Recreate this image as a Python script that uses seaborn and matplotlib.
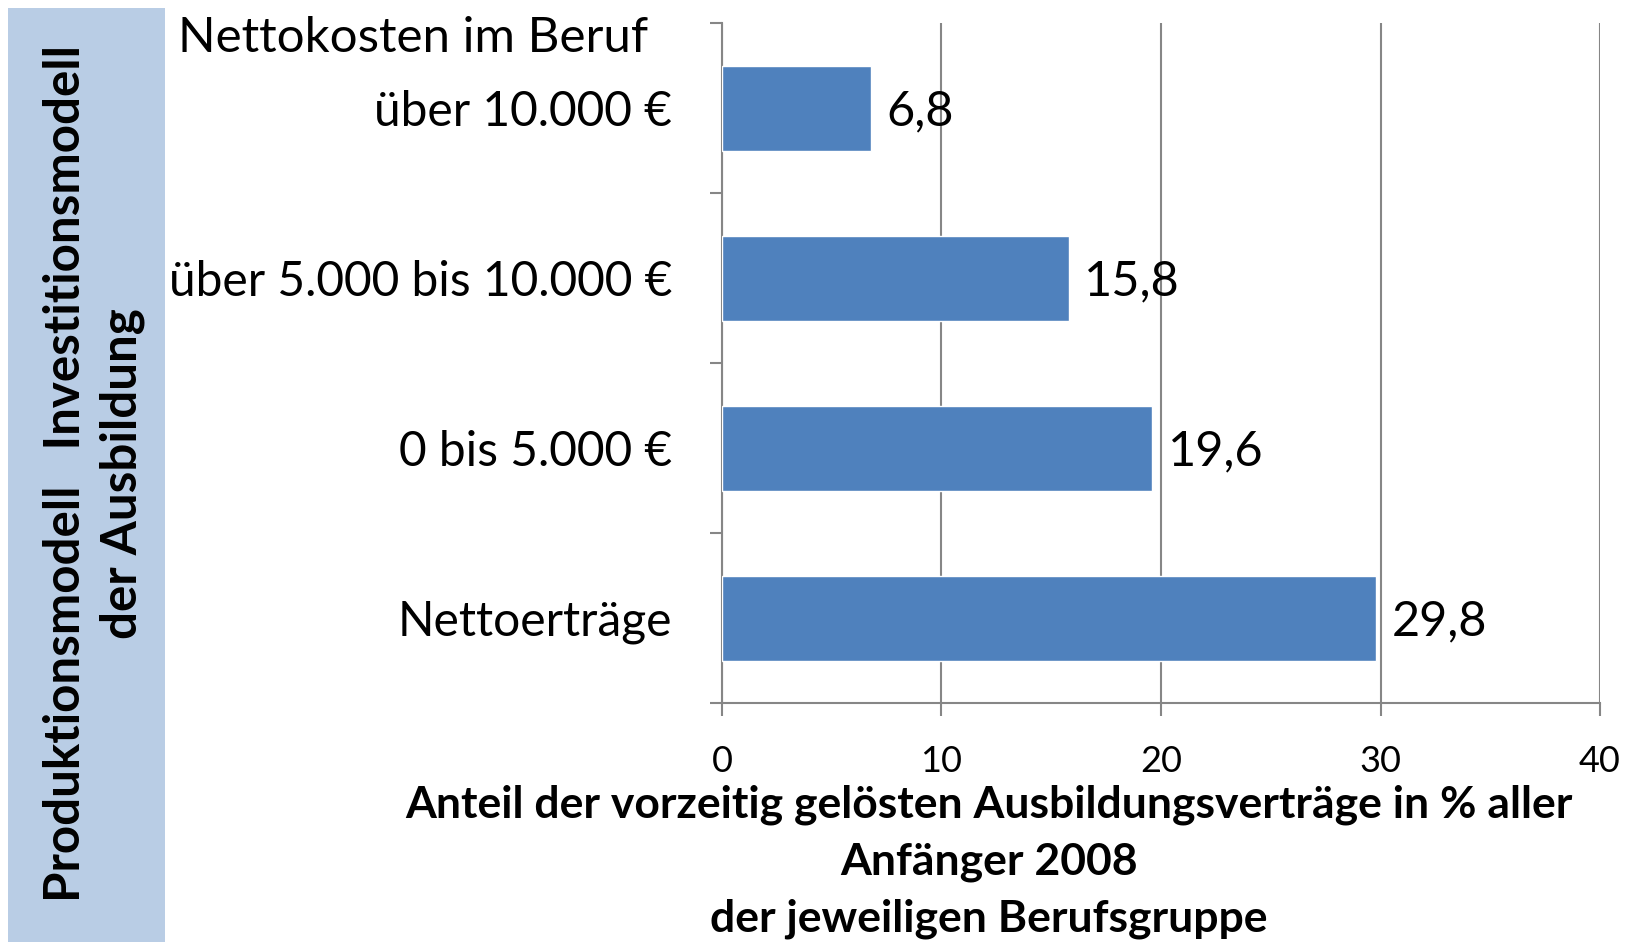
import matplotlib
matplotlib.use("Agg")
import matplotlib.pyplot as plt
import seaborn as sns
from matplotlib.patches import Rectangle

categories = ["über 10.000 €", "über 5.000 bis 10.000 €", "0 bis 5.000 €", "Nettoerträge"]
values = [6.8, 15.8, 19.6, 29.8]
value_labels = ["6,8", "15,8", "19,6", "29,8"]
xticks = [0, 10, 20, 30, 40]
header = "Nettokosten im Beruf"
xlabel = "Anteil der vorzeitig gelösten Ausbildungsverträge in % aller\nAnfänger 2008\nder jeweiligen Berufsgruppe"
band_text = "Produktionsmodell   Investitionsmodell\nder Ausbildung"

sns.set_theme(style="white")
plt.rcParams['font.family'] = ['Lato', 'DejaVu Sans']

fig = plt.figure(figsize=(16.33, 9.42), dpi=100)
fig.patch.set_facecolor("white")

# left blue band
fig.patches.append(Rectangle((8/1633, 0), 157/1633, 1 - 8/942, transform=fig.transFigure,
                             facecolor="#B9CDE5", edgecolor="none", zorder=0))
fig.text(94/1633, 0.497, band_text, rotation=90, ha="center", va="center",
         multialignment="center", fontsize=35.5, fontweight="bold", color="black",
         linespacing=1.33)

ax = fig.add_axes([722/1633, 1 - 703/942, (1600 - 722)/1633, (703 - 23)/942])
sns.barplot(x=values, y=categories, orient="h", color="#4F81BD", saturation=1,
            width=0.5, ax=ax, zorder=3)

ax.set_xlim(0, 40)
ax.set_ylim(3.5, -0.5)
ax.set_xticks(xticks)
ax.set_xticklabels([str(t) for t in xticks])
ax.set_yticks(range(len(categories)))
ax.set_yticklabels(categories)
ax.set_yticks([-0.5, 0.5, 1.5, 2.5, 3.5], minor=True)

gray = "#868686"
for s in ["top", "right"]:
    ax.spines[s].set_visible(False)
for s in ["left", "bottom"]:
    ax.spines[s].set_color(gray)
    ax.spines[s].set_linewidth(1.5)
ax.xaxis.grid(True, color=gray, linewidth=1.5)
ax.yaxis.grid(False)
ax.set_axisbelow(True)

ax.tick_params(axis="y", which="major", length=0, pad=36, labelsize=34.5, labelcolor="black")
ax.tick_params(axis="y", which="minor", length=9, width=1.5, color=gray, direction="out", left=True)
ax.tick_params(axis="x", which="major", length=9, width=1.5, color=gray, direction="out",
               bottom=True, pad=21, labelsize=26, labelcolor="black")
ax.set_xlabel("")
ax.set_ylabel("")

texts = ax.bar_label(ax.containers[0], labels=value_labels, padding=11, fontsize=35, color="black")
for t in texts:
    t.xyann = (11, -2.5)

# header line above first category label
fig.text(648/1633, 1 - 38/942, header, ha="right", va="center",
         fontsize=35.5, color="black")

fig.text(989/1633, 1 - 862/942, xlabel, ha="center", va="center", multialignment="center",
         fontsize=32, fontweight="bold", color="black", linespacing=1.5)

fig.savefig("out.png", dpi=100, facecolor="white")
